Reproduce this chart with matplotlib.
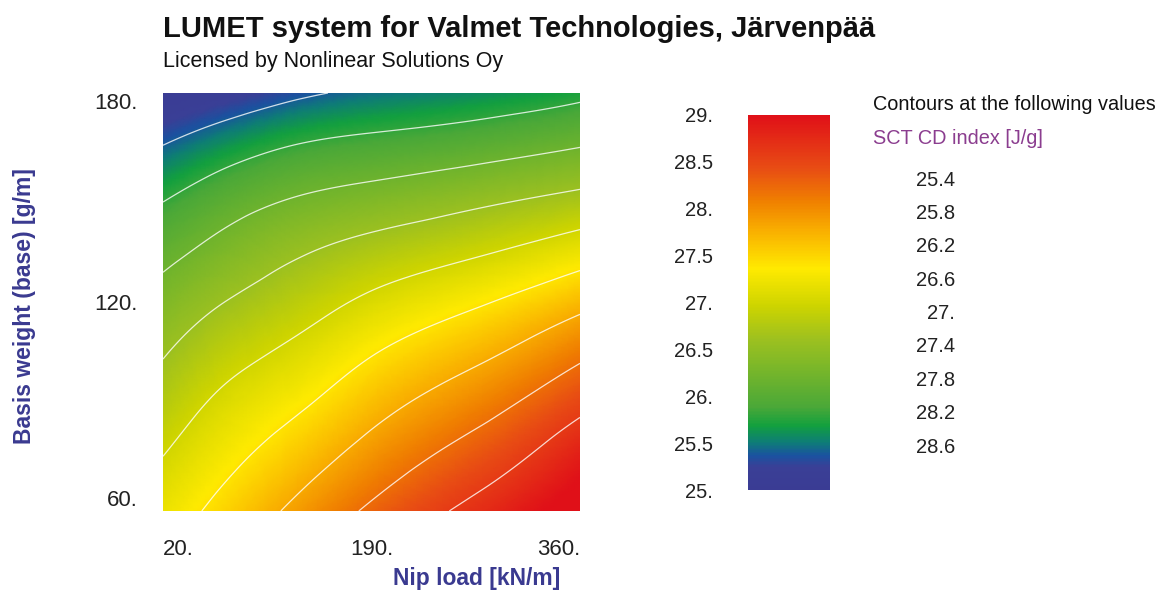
import numpy as np
import matplotlib
matplotlib.use("Agg")
import matplotlib.pyplot as plt
import matplotlib.tri as mtri
from matplotlib.colors import LinearSegmentedColormap, Normalize

plt.rcParams['font.family'] = ['Liberation Sans', 'DejaVu Sans']

# values (SCT CD index, J/g)
nip_load = [20, 75, 130, 195, 280, 360]                      # kN/m
basis_weight = [60, 75, 90, 105, 120, 135, 150, 165, 180]    # g/m
sct_cd = [
    [27.21, 27.54, 27.89, 28.29, 28.73, 29.15],    # 60
    [27.01, 27.33, 27.62, 27.99, 28.41, 28.88],    # 75
    [26.79, 27.12, 27.36, 27.70, 28.08, 28.52],    # 90
    [26.58, 26.88, 27.10, 27.41, 27.74, 28.13],    # 105
    [26.35, 26.62, 26.83, 27.09, 27.37, 27.69],    # 120
    [26.08, 26.34, 26.55, 26.74, 26.95, 27.20],    # 135
    [25.77, 26.03, 26.21, 26.34, 26.51, 26.68],    # 150
    [25.40, 25.63, 25.81, 25.91, 26.03, 26.18],    # 165
    [25.03, 25.17, 25.34, 25.47, 25.58, 25.72],    # 180
]
contour_levels = [25.4, 25.8, 26.2, 26.6, 27.0, 27.4, 27.8, 28.2, 28.6]
contour_labels = ["25.4", "25.8", "26.2", "26.6", "27.", "27.4", "27.8", "28.2", "28.6"]
cbar_ticks = [25, 25.5, 26, 26.5, 27, 27.5, 28, 28.5, 29]
cbar_labels = ["25.", "25.5", "26.", "26.5", "27.", "27.5", "28.", "28.5", "29."]
x_ticks = [20, 190, 360]
y_ticks = [60, 120, 180]

# colour scale as seen in the legend bar
cmap = LinearSegmentedColormap.from_list("lumet", [
    (0.00, "#3a3c94"), (0.06, "#3a3f96"), (0.09, "#1a52a0"),
    (0.125, "#0e7c78"), (0.17, "#12a03e"), (0.22, "#4aa838"),
    (0.32, "#78b62a"), (0.40, "#9cc020"), (0.49, "#cdd400"),
    (0.59, "#ffea00"), (0.69, "#f9b000"), (0.77, "#f08000"),
    (0.86, "#e84c14"), (1.00, "#e01018")])
norm = Normalize(25, 29)

W, H = 1166, 593
fig = plt.figure(figsize=(W / 100, H / 100), dpi=100)


def fx(px):
    return px / W


def fy(py):
    return 1 - py / H


ax = fig.add_axes([fx(163), fy(511), fx(580) - fx(163), fy(93) - fy(511)])

# smooth the grid in axis-normalised units so the cells are not stretched
x0, x1 = nip_load[0], nip_load[-1]
y0, y1 = basis_weight[0], basis_weight[-1]
X, Y = np.meshgrid(nip_load, basis_weight)
U = (X.ravel() - x0) / (x1 - x0)
V = (Y.ravel() - y0) / (y1 - y0)
tri_n = mtri.Triangulation(U, V)
z = np.array(sct_cd).ravel()
interp = mtri.CubicTriInterpolator(tri_n, z, kind='min_E')
refiner = mtri.UniformTriRefiner(tri_n)
tri_r, z_f = refiner.refine_field(z, triinterpolator=interp, subdiv=4)
tri_f = mtri.Triangulation(x0 + tri_r.x * (x1 - x0), y0 + tri_r.y * (y1 - y0),
                           tri_r.triangles)

pc = ax.tripcolor(tri_f, z_f, shading='gouraud', cmap=cmap, norm=norm)
ax.tricontour(tri_f, z_f, levels=contour_levels, colors='white',
              linewidths=0.9, alpha=0.8)

ax.set_xlim(20, 360)
ax.set_ylim(60, 180)
for s in ax.spines.values():
    s.set_visible(False)

ax.set_xticks(x_ticks)
ax.set_xticklabels([f"{v}." for v in x_ticks])
ax.set_yticks(y_ticks)
ax.set_yticklabels([f"{v}." for v in y_ticks])
ax.tick_params(length=0, labelsize=16, colors='#222222')
ax.tick_params(axis='x', pad=20)
ax.tick_params(axis='y', pad=18)
xl = ax.get_xticklabels()
xl[0].set_ha('left')
xl[-1].set_ha('right')
yl = ax.get_yticklabels()
yl[0].set_va('bottom')
yl[-1].set_va('top')

fig.text(fx(477), fy(578), "Nip load [kN/m]", ha='center', va='center',
         fontsize=16.5, fontweight='bold', color='#3a3a90')
fig.text(fx(25), fy(306), "Basis weight (base) [g/m]", ha='center', va='center',
         rotation=90, fontsize=16.5, fontweight='bold', color='#3a3a90')

# titles
fig.text(fx(163), fy(29), "LUMET system for Valmet Technologies, Järvenpää",
         ha='left', va='center', fontsize=21, fontweight='bold', color='#111111')
fig.text(fx(163), fy(62), "Licensed by Nonlinear Solutions Oy",
         ha='left', va='center', fontsize=15.5, color='#111111')

# colour bar
cax = fig.add_axes([fx(748), fy(490), fx(830) - fx(748), fy(115) - fy(490)])
cb = fig.colorbar(pc, cax=cax, ticks=cbar_ticks)
cb.outline.set_visible(False)
cax.yaxis.set_ticks_position('left')
cax.set_yticklabels(cbar_labels)
cax.tick_params(length=0, labelsize=14.5, pad=25, colors='#222222')

# contour value list
fig.text(fx(873), fy(104), "Contours at the following values",
         ha='left', va='center', fontsize=14.3, color='#111111')
fig.text(fx(873), fy(138), "SCT CD index [J/g]",
         ha='left', va='center', fontsize=14.3, color='#8b3d8f')
for i, lab in enumerate(contour_labels):
    fig.text(fx(955), fy(180 + i * 33.4), lab, ha='right', va='center',
             fontsize=14.5, color='#222222')

fig.savefig("out.png", dpi=100)
